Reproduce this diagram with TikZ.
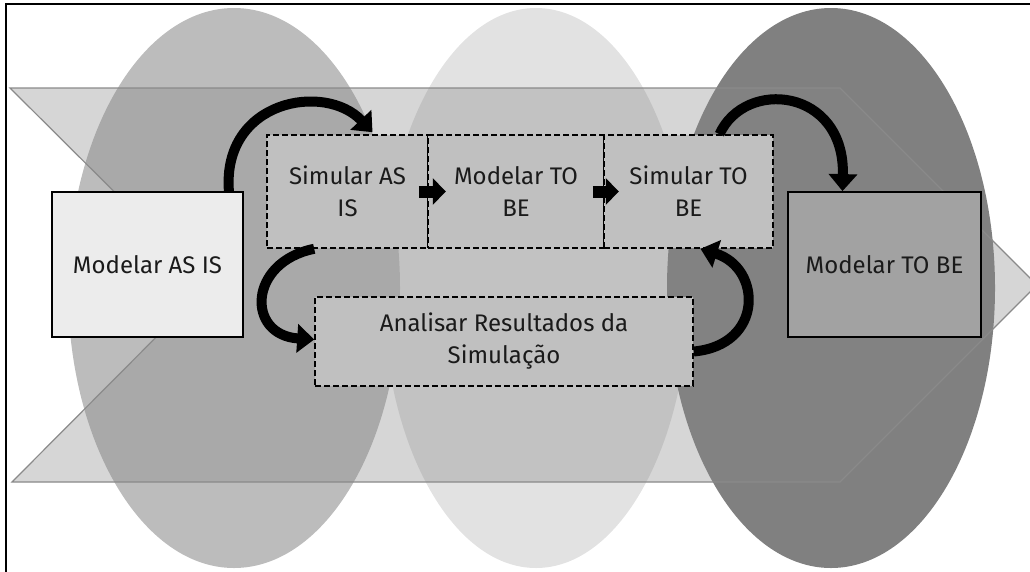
\documentclass[tikz,border=0pt]{standalone}
\usepackage{fontspec}
\setmainfont{Fira Sans}
\usetikzlibrary{arrows.meta}
\definecolor{ellleft}{HTML}{BCBCBC}
\definecolor{ellmid}{HTML}{E2E2E2}
\definecolor{ellright}{HTML}{808080}
\definecolor{chevfill}{HTML}{878787}
\definecolor{chevline}{HTML}{8A8A8A}
\definecolor{stepfill}{HTML}{C0C0C0}
\definecolor{startfill}{HTML}{ECECEC}
\definecolor{endfill}{HTML}{A2A2A2}
\definecolor{txt}{HTML}{1A1A1A}
\begin{document}
\begin{tikzpicture}[x=1pt,y=-1pt,
  every node/.style={font=\fontsize{24}{32}\selectfont, text=txt, align=center, inner sep=0pt},
  solidbox/.style={draw=black, line width=1.8pt, minimum width=191pt, minimum height=145pt},
  dashbox/.style={draw=black, line width=1.6pt, dash pattern=on 6pt off 3pt, fill=stepfill, minimum height=113pt},
  curvearrow/.style={line width=10pt, -{Triangle[length=17pt,width=28pt]}},
  blockarrow/.style={line width=12pt, -{Triangle[length=13pt,width=26pt]}}
]
\useasboundingbox (0,0) rectangle (1030,571);
\clip (0,0) rectangle (1030,571);

% phase ellipses
\fill[ellmid]   (536,288) ellipse [x radius=153, y radius=280];
\fill[ellleft]  (234,288) ellipse [x radius=166, y radius=280];
\fill[ellright] (831,288) ellipse [x radius=164, y radius=280];

% chevron band
\fill[chevfill, fill opacity=0.34]
  (10,88) -- (840,88) -- (1037,285) -- (840,482) -- (12,482) -- (208,285) -- cycle;
\draw[chevline, line width=1.2pt]
  (10,88) -- (840,88) -- (1037,285) -- (840,482) -- (12,482) -- (208,285) -- cycle;

% outer frame
\draw[black, line width=2pt] (6,575) -- (6,4) -- (1035,4);

% start and end models
\node[solidbox, fill=startfill] (asis) at (147.5,264.5) {Modelar AS IS};
\node[solidbox, fill=endfill, minimum width=193pt] (tobe) at (884.5,264.5) {Modelar TO BE};

% simulation steps
\node[dashbox, minimum width=161pt] (simas) at (347.5,191.5) {Simular AS\\IS};
\node[dashbox, minimum width=176pt] (modto) at (516,191.5) {Modelar TO\\BE};
\node[dashbox, minimum width=169pt] (simto) at (688.5,191.5) {Simular TO\\BE};
\node[dashbox, minimum width=378pt, minimum height=89pt] (anal) at (504,341.5) {Analisar Resultados da\\Simulação};

% arrows between steps
\draw[blockarrow] ([xshift=-10pt]simas.east) -- ([xshift=17pt]simas.east);
\draw[blockarrow] ([xshift=-12pt]modto.east) -- ([xshift=14pt]modto.east);

% curved transitions
\draw[curvearrow] ([xshift=-15pt]asis.north east) .. controls (222,100) and (325,82) .. ([xshift=25pt,yshift=2pt]simas.north);
\draw[curvearrow] ([xshift=31pt]simto.north) .. controls (745,78) and (845,88) .. ([xshift=-42pt]tobe.north);
\draw[curvearrow] ([xshift=48pt]simas.south west) .. controls (248,262) and (246,335) .. ([yshift=2pt]anal.west);
\draw[curvearrow] ([yshift=-10pt]anal.east) .. controls (764,345) and (762,268) .. ([xshift=12pt]simto.south);

\end{tikzpicture}
\end{document}
